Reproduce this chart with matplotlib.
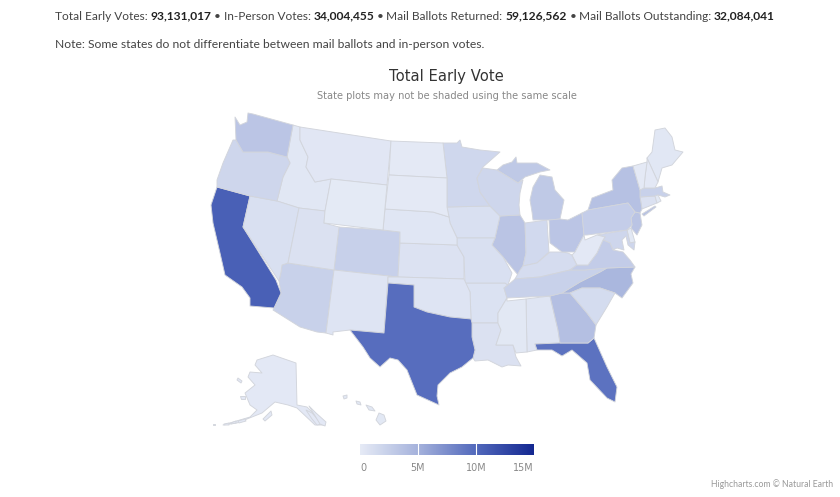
import numpy as np
import matplotlib
matplotlib.use("Agg")
import matplotlib.pyplot as plt
from matplotlib.colors import LinearSegmentedColormap, Normalize
from matplotlib.patches import Polygon

W, H = 840, 497

state_codes = ["AK","AL","AZ","AR","CA","CO","CT","DE","FL","GA","HI","ID","IL","IN","IA","KS","KY","LA","ME","MD",
               "MA","MI","MN","MS","MO","MT","NE","NV","NH","NJ","NM","NY","NC","ND","OH","OK","OR","PA","RI","SC",
               "SD","TN","TX","UT","VT","VA","WA","WV","WI","WY"]
# Estimated early votes, in millions, read from the shading
early_votes_m = [0.25,0.55,2.3,0.85,10.7,2.4,0.9,0.3,9.4,3.9,0.3,0.4,3.4,1.6,1.0,0.8,1.3,0.9,0.4,1.9,
                 2.3,3.0,1.8,0.35,1.0,0.45,0.5,1.0,0.25,3.4,0.7,3.7,4.6,0.2,3.3,0.7,1.9,2.6,0.3,1.4,
                 0.2,2.3,9.7,0.9,0.2,2.7,3.3,0.25,1.9,0.15]

legend_ticks = [0, 5, 10, 15]
legend_labels = ["0", "5M", "10M", "15M"]
summary_labels = ["Total Early Votes: ", "In-Person Votes: ", "Mail Ballots Returned: ", "Mail Ballots Outstanding: "]
summary_values = ["93,131,017", "34,004,455", "59,126,562", "32,084,041"]

# Map geometry: simplified state outlines (reference picture coordinates)
outlines = {
 "WA":[[(235,117),(240,125),(247,122),(248,113),(253,114),(293,125),(287,157),(268,152),(243,152),(236,140)]],
 "OR":[[(233,140),(236,140),(243,152),(268,152),(287,157),(290,163),(283,177),(277,201),(250,196),(217,187),(217,180),(223,163)]],
 "CA":[[(217,187),(250,196),(243,227),(276,280),(281,293),(274,308),(250,306),(250,298),(242,287),(225,275),(220,253),(213,223),(211,205)]],
 "NV":[[(250,196),(277,201),(299,208),(288,263),(282,265),(281,272),(279,281),(243,227)]],
 "ID":[[(293,125),(300,127),(300,140),(308,157),(306,167),(315,182),(331,179),(325,211),(299,208),(277,201),(283,177),(290,163),(287,157)]],
 "MT":[[(300,127),(391,141),(387,185),(331,179),(315,182),(306,167),(308,157),(300,140)]],
 "ND":[[(391,141),(443,143),(447,178),(389,175)]],
 "SD":[[(389,175),(447,178),(447,207),(449,217),(433,212),(385,209)]],
 "WY":[[(331,179),(387,185),(383,230),(324,223),(325,211)]],
 "UT":[[(299,208),(325,211),(324,223),(339,227),(334,270),(288,263)]],
 "CO":[[(339,227),(383,230),(400,232),(398,277),(334,270)]],
 "NE":[[(385,209),(433,212),(449,217),(450,223),(457,238),(457,245),(400,243),(400,232),(383,230)]],
 "KS":[[(400,243),(457,245),(464,257),(464,279),(398,277)]],
 "AZ":[[(282,265),(288,263),(334,270),(326,333),(317,332),(300,327),(273,310),(274,308),(281,293),(279,281),(281,272)]],
 "NM":[[(334,270),(398,277),(388,277),(384,333),(350,330),(333,332),(333,335),(326,333)]],
 "TX":[[(388,283),(414,285),(414,307),(427,312),(450,317),(471,319),(472,323),(472,337),(475,350),(473,358),(462,367),(450,373),(438,385),(437,396),(439,405),(417,395),(407,370),(398,360),(390,358),(380,367),(370,358),(363,347),(350,330),(384,333)]],
 "OK":[[(388,277),(398,277),(464,279),(470,292),(471,319),(450,317),(427,312),(414,307),(414,285),(388,283)]],
 "AR":[[(465,283),(505,283),(508,285),(504,288),(507,298),(498,313),(498,323),(472,323),(471,319),(470,292)]],
 "MO":[[(457,238),(495,238),(492,245),(503,257),(512,273),(508,285),(505,283),(465,283),(464,257),(457,245)]],
 "IA":[[(447,207),(490,206),(500,216),(495,238),(457,238),(450,223),(449,217)]],
 "MN":[[(443,143),(457,143),(460,140),(462,147),(480,150),(500,152),(483,167),(477,178),(480,192),(490,206),(447,207),(447,178)]],
 "WI":[[(483,168),(497,170),(518,183),(523,180),(520,193),(519,205),(520,215),(500,216),(490,206),(480,192),(477,178)]],
 "IL":[[(500,216),(520,215),(525,223),(526,253),(523,266),(518,275),(503,257),(492,245),(495,238)]],
 "IN":[[(525,223),(547,220),(549,252),(537,263),(523,266),(526,253)]],
 "OH":[[(549,220),(560,219),(568,220),(582,213),(584,235),(575,252),(562,252),(550,243)]],
 "MI":[[(530,200),(533,187),(540,175),(552,177),(555,190),(564,200),(560,219),(549,220),(533,220),(532,212)],
       [(497,170),(503,165),(512,162),(516,157),(517,163),(537,163),(550,170),(540,172),(525,177),(518,183)]],
 "KY":[[(515,279),(520,270),(523,266),(537,263),(550,252),(562,252),(568,253),(572,255),(577,265),(570,270),(540,277)]],
 "TN":[[(507,298),(504,288),(508,285),(515,279),(540,277),(570,270),(585,270),(607,268),(600,272),(580,282),(562,293),(550,296)]],
 "VA":[[(577,265),(580,265),(588,265),(597,253),(603,240),(610,243),(613,250),(623,252),(630,260),(635,267),(607,268),(585,270),(570,270)]],
 "WV":[[(584,235),(585,240),(597,235),(605,237),(603,240),(597,253),(588,265),(580,265),(577,265),(572,255),(575,252)]],
 "PA":[[(582,213),(588,210),(628,203),(635,212),(631,218),(632,225),(627,230),(587,235),(584,235)]],
 "NY":[[(588,210),(592,198),(613,190),(612,180),(622,168),(633,166),(640,190),(640,197),(642,209),(640,213),(635,212),(628,203)],
       [(642,214),(655,206),(656,207),(644,216)]],
 "NJ":[[(635,212),(640,213),(642,225),(637,235),(631,228),(632,225),(631,218)]],
 "DE":[[(627,230),(631,228),(635,242),(630,243)]],
 "MD":[[(597,235),(627,230),(630,243),(635,242),(634,250),(628,245),(626,236),(622,240),(624,250),(617,248),(613,250),(610,243),(603,240),(605,237)]],
 "VT":[[(633,166),(647,162),(645,177),(644,188),(640,190)]],
 "NH":[[(647,158),(658,182),(655,188),(644,188),(645,177),(647,162)]],
 "ME":[[(647,158),(652,152),(655,130),(665,128),(672,137),(675,150),(683,152),(672,165),(662,168),(658,182)]],
 "MA":[[(640,190),(644,188),(655,188),(662,186),(663,192),(670,195),(665,197),(658,195),(655,196),(640,197)]],
 "CT":[[(640,197),(655,196),(657,203),(642,209)]],
 "RI":[[(655,196),(658,195),(661,201),(657,203)]],
 "NC":[[(562,293),(580,282),(600,272),(607,268),(635,267),(631,274),(633,283),(622,298),(615,293),(600,288),(582,288),(570,293)]],
 "SC":[[(570,293),(582,288),(600,288),(615,293),(607,307),(596,325),(587,313)]],
 "GA":[[(550,296),(562,293),(570,293),(587,313),(596,325),(594,338),(588,343),(560,343),(558,330)]],
 "AL":[[(526,299),(550,296),(558,330),(560,343),(535,344),(537,350),(527,352)]],
 "MS":[[(507,298),(507,301),(526,299),(527,352),(516,353),(513,345),(496,345),(501,330),(498,323),(498,313)]],
 "LA":[[(472,323),(498,323),(501,330),(496,345),(513,345),(516,357),(521,366),(508,365),(502,367),(488,360),(475,361),(473,358),(475,350),(472,337)]],
 "FL":[[(535,344),(560,343),(588,343),(594,338),(607,367),(617,387),(615,402),(607,398),(590,380),(587,363),(572,350),(562,356),(552,350),(537,350)]],
 "AK":[[(257,360),(273,355),(296,363),(297,405),(307,407),(325,425),(315,425),(297,408),(288,405),(275,402),(262,413),(237,423),(223,425),(250,417),(257,410),(250,405),(245,393),(255,385),(248,377),(250,372),(262,373),(255,365)],
       [(263,419),(271,411),(272,415),(265,421)],[(238,378),(242,381),(241,383),(237,380)],[(240,396),(245,396),(245,399),(241,399)],
       [(213,424),(215,424),(215,425),(213,425)],[(224,424),(229,423),(229,425),(224,425)],[(231,423),(236,421),(236,423),(231,424)],
       [(238,421),(245,419),(246,421),(239,423)],[(306,410),(312,413),(322,424),(317,425),(312,419)],[(309,406),(316,413),(326,422),(325,426),(320,424)]],
 "HI":[[(379,413),(384,415),(386,421),(380,425),(376,420)],[(366,405),(372,407),(375,411),(369,410)],[(356,401),(360,402),(361,405),(357,404)],[(343,396),(347,395),(347,398),(344,399)]],
}

fig = plt.figure(figsize=(W/100, H/100), dpi=100, facecolor="white")
ax = fig.add_axes([0, 0, 1, 1])
ax.set_xlim(0, W)
ax.set_ylim(H, 0)
ax.axis("off")

cmap = LinearSegmentedColormap.from_list("votes", [(0.0,(230/255,235/255,246/255)),(1/3,(165/255,178/255,220/255)),
                                                   (2/3,(82/255,105/255,188/255)),(1.0,(20/255,40/255,145/255))])
norm = Normalize(0, 15)

for code, val in zip(state_codes, early_votes_m):
    for ring in outlines[code]:
        ax.add_patch(Polygon(ring, closed=True, facecolor=cmap(norm(val)), edgecolor="#d2d5dc", linewidth=0.65, joinstyle="round"))

# Summary line with bold runs
TXT = "#444444"
rend = fig.canvas.get_renderer()
x = 55.0
BASE = 19.5
for i, (lab, val) in enumerate(zip(summary_labels, summary_values)):
    t = ax.text(x, BASE, lab, family="Lato", fontsize=8.55, color=TXT, va="baseline", ha="left")
    x = t.get_window_extent(rend).x1 + 0.2
    t = ax.text(x, BASE, val, family="Lato", fontsize=8.65, fontweight="bold", color="#222222", va="baseline", ha="left")
    x = t.get_window_extent(rend).x1 + 2.4
    if i < 3:
        t = ax.text(x, BASE, "•", family="Lato", fontsize=8.55, color=TXT, va="baseline", ha="left")
        x = t.get_window_extent(rend).x1 + 2.4

ax.text(55, 47.5, "Note: Some states do not differentiate between mail ballots and in-person votes.",
        family="Lato", fontsize=8.75, color=TXT, va="baseline", ha="left")
ax.text(446.5, 76, "Total Early Vote", family="DejaVu Sans", fontsize=10.6, color="#333333", va="center", ha="center")
ax.text(446.5, 96, "State plots may not be shaded using the same scale", family="DejaVu Sans", fontsize=7.1,
        color="#888888", va="center", ha="center")
ax.text(833, 484, "Highcharts.com © Natural Earth", family="Lato", fontsize=6.2, color="#999999", va="center", ha="right")

# Colour legend
cax = fig.add_axes([360/W, 1-455/H, 174/W, 11/H])
cax.imshow(np.linspace(0, 15, 256)[None, :], cmap=cmap, norm=norm, aspect="auto", extent=[0, 15, 0, 1])
for s in cax.spines.values():
    s.set_visible(False)
cax.set_yticks([])
cax.set_xticks([])
for tick in legend_ticks[1:-1]:
    cax.axvline(tick, color="white", lw=0.8)
for tick, lab in zip(legend_ticks, legend_labels):
    ha = "center" if tick != legend_ticks[-1] else "right"
    pos = tick if tick != legend_ticks[0] else 0.33
    cax.annotate(lab, (pos, 0), xytext=(0, -13), textcoords="offset pixels",
                 family="DejaVu Sans", fontsize=6.9, color="#888888", ha=ha, va="center", annotation_clip=False)

fig.savefig("out.png", dpi=100, facecolor="white")
